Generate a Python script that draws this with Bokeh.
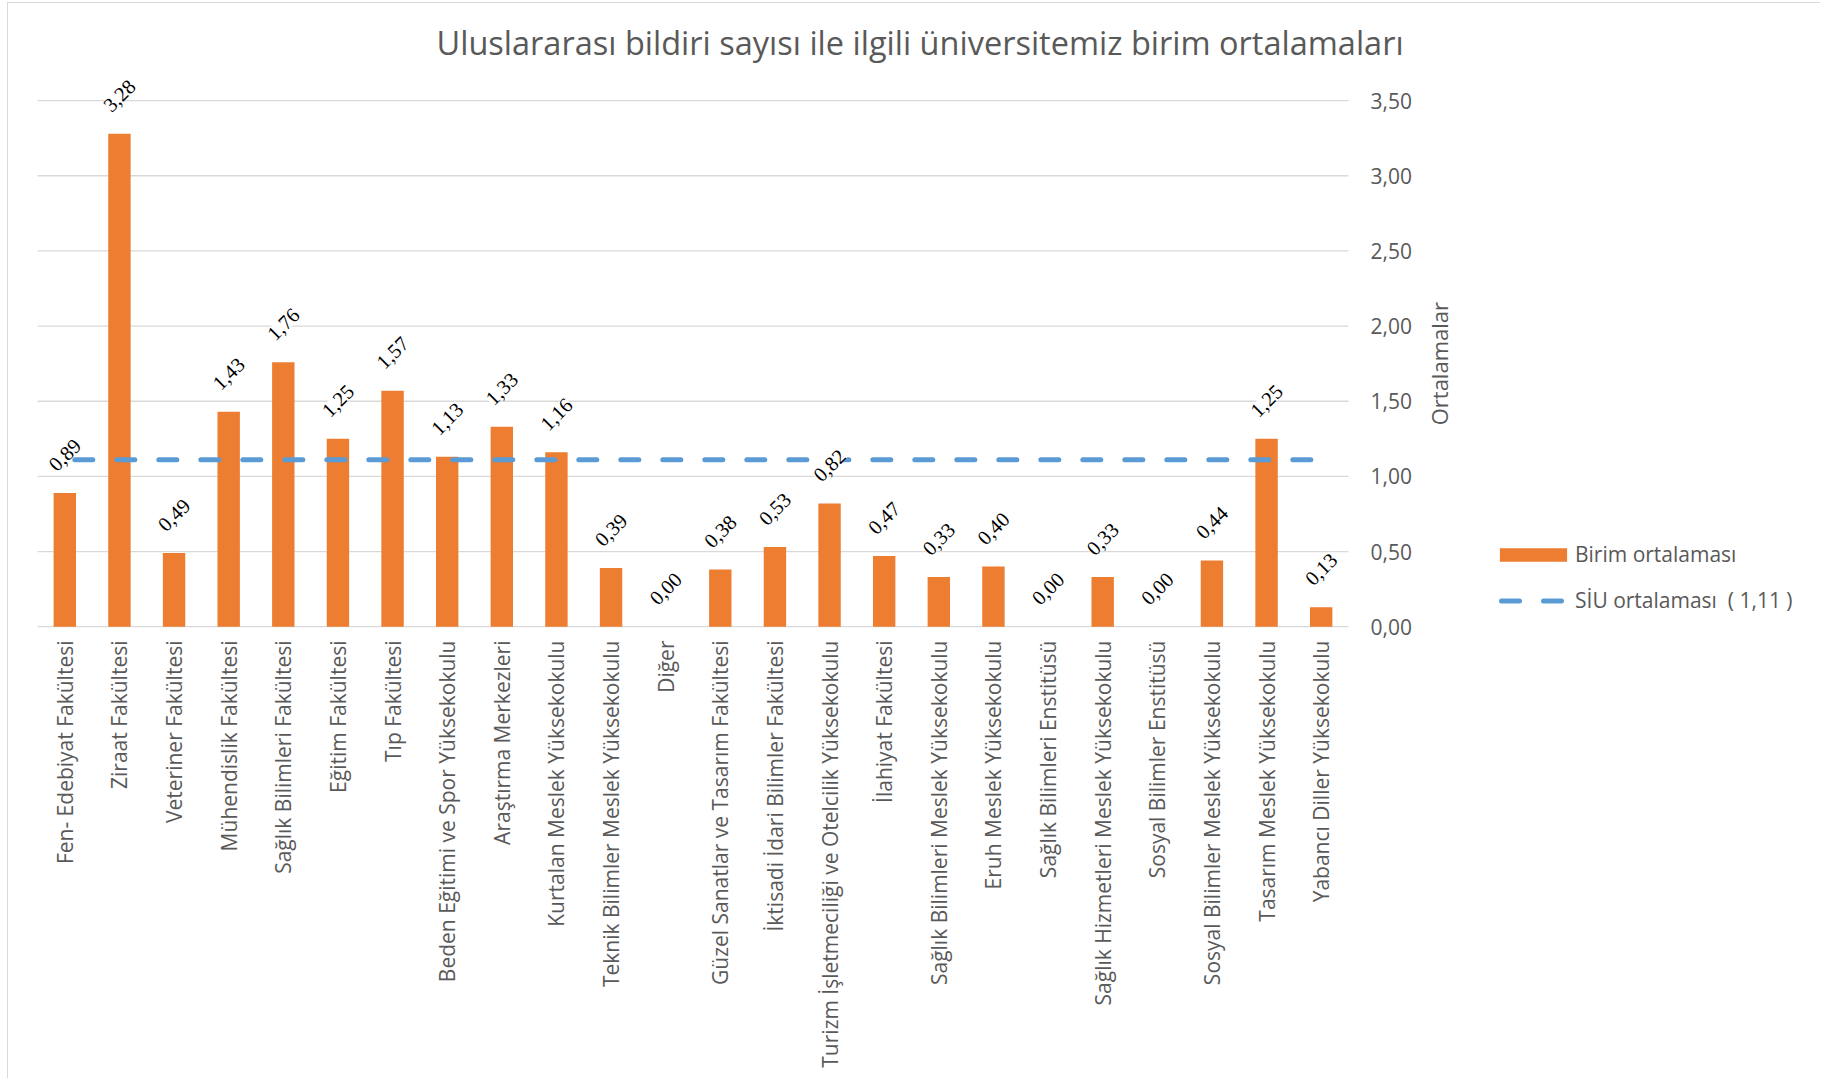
import math
from bokeh.plotting import figure
from bokeh.models import (ColumnDataSource, LabelSet, Legend, LegendItem,
                          FixedTicker, Range1d)
from bokeh.core.properties import value
from bokeh.embed import file_html
from bokeh.resources import INLINE

# ---------------- data ----------------
categories = [
    "Fen- Edebiyat Fakültesi",
    "Ziraat Fakültesi",
    "Veteriner Fakültesi",
    "Mühendislik Fakültesi",
    "Sağlık Bilimleri Fakültesi",
    "Eğitim Fakültesi",
    "Tıp Fakültesi",
    "Beden Eğitimi ve Spor Yüksekokulu",
    "Araştırma Merkezleri",
    "Kurtalan Meslek Yüksekokulu",
    "Teknik Bilimler Meslek Yüksekokulu",
    "Diğer",
    "Güzel Sanatlar ve Tasarım Fakültesi",
    "İktisadi İdari Bilimler Fakültesi",
    "Turizm İşletmeciliği ve Otelcilik Yüksekokulu",
    "İlahiyat Fakültesi",
    "Sağlık Bilimleri Meslek Yüksekokulu",
    "Eruh Meslek Yüksekokulu",
    "Sağlık Bilimleri Enstitüsü",
    "Sağlık Hizmetleri Meslek Yüksekokulu",
    "Sosyal Bilimler Enstitüsü",
    "Sosyal Bilimler Meslek Yüksekokulu",
    "Tasarım Meslek Yüksekokulu",
    "Yabancı Diller Yüksekokulu",
]
unit_averages = [0.89, 3.28, 0.49, 1.43, 1.76, 1.25, 1.57, 1.13, 1.33, 1.16,
                 0.39, 0.00, 0.38, 0.53, 0.82, 0.47, 0.33, 0.40, 0.00, 0.33,
                 0.00, 0.44, 1.25, 0.13]
siu_average = 1.11
y_ticks = [0.0, 0.5, 1.0, 1.5, 2.0, 2.5, 3.0, 3.5]
y_tick_labels = ["0,00", "0,50", "1,00", "1,50", "2,00", "2,50", "3,00", "3,50"]
title_text = "Uluslararası bildiri sayısı ile ilgili üniversitemiz birim ortalamaları"
y_axis_title = "Ortalamalar"
bar_series_name = "Birim ortalaması"
line_series_name = "SİU ortalaması\u00a0 ( 1,11 )"

# ---------------- styles ----------------
FONT = "Open Sans"
GREY = "#595959"
ORANGE = "#ED7D31"
BLUE = "#5B9BD5"
GRID = "#D9D9D9"
CAT_PX = 1311 / 24          # pixel width of one category slot
FRAME_W, FRAME_H = 1783, 569
Y_LO, Y_HI = -0.085, 3.7

n = len(categories)
idx = list(range(n))
x_lo, x_hi = -0.5, n - 0.5
value_labels = [f"{v:.2f}".replace(".", ",") for v in unit_averages]
src = ColumnDataSource(dict(x=idx, val=unit_averages, lab=value_labels,
                            siu=[siu_average] * n))

p = figure(x_range=Range1d(x_lo, x_lo + FRAME_W / CAT_PX), y_range=Range1d(Y_LO, Y_HI),
           frame_width=FRAME_W, frame_height=FRAME_H,
           y_axis_location=None,
           output_backend="svg", toolbar_location=None,
           min_border_left=29, min_border_top=67, min_border_bottom=439,
           min_border_right=0)
p.styles = {"margin-left": "7px", "margin-top": "2px",
            "border-left": "1px solid #D9D9D9", "border-top": "1px solid #D9D9D9"}

p.title.text = title_text
p.title.align = "left"
p.title.offset = 399
p.title.standoff = 11
p.title.text_font = FONT
p.title.text_font_size = "32.5px"
p.title.text_font_style = "normal"
p.title.text_color = GREY

p.xgrid.grid_line_color = None
p.ygrid.grid_line_color = None
p.outline_line_color = None

# horizontal gridlines (value axis) across the category area only
p.segment(x0=[x_lo] * len(y_ticks), x1=[x_hi] * len(y_ticks), y0=y_ticks, y1=y_ticks,
          line_color=GRID, line_width=1.3)

bars = p.vbar(x="x", top="val", width=0.41, source=src, color=ORANGE, line_color=None)
line = p.line(x="x", y="siu", source=src, line_color=BLUE, line_width=5,
              line_dash="18 24", line_cap="round", line_dash_offset=32)

labels = LabelSet(x="x", y="val", text="lab", source=src, y_offset=38,
                  angle=math.pi / 4, text_align="center", text_baseline="middle",
                  text_font=FONT, text_font_size="20.5px", text_color="#000000",
                  background_fill_color="white")
p.add_layout(labels)

# value-axis tick labels on the right of the category area
p.text(x=[x_hi] * len(y_ticks), y=y_ticks, text=y_tick_labels, x_offset=22,
       text_align="left", text_baseline="middle", text_font=value(FONT),
       text_font_size="21px", text_color=GREY)

# value-axis title, reading bottom to top
p.text(x=[x_hi], y=[(y_ticks[0] + y_ticks[-1]) / 2], text=[y_axis_title], x_offset=90,
       angle=math.pi / 2, text_align="center", text_baseline="middle",
       text_font=value(FONT), text_font_size="22px", text_color=GREY)

# category axis
xa = p.xaxis[0]
xa.ticker = FixedTicker(ticks=idx)
xa.major_label_overrides = {i: c for i, c in zip(idx, categories)}
xa.axis_line_color = None
xa.major_tick_line_color = None
xa.major_tick_out = 0
xa.minor_tick_line_color = None
xa.major_label_orientation = math.pi / 2
xa.major_label_standoff = 1
xa.major_label_text_font = FONT
xa.major_label_text_font_size = "21px"
xa.major_label_text_color = GREY

legend = Legend(items=[LegendItem(label=bar_series_name, renderers=[bars]),
                       LegendItem(label=line_series_name, renderers=[line])],
                location=(1454, 25))
legend.label_text_font = FONT
legend.label_text_font_size = "21px"
legend.label_text_color = GREY
legend.glyph_width = 84
legend.glyph_height = 17
legend.label_height = 17
legend.label_standoff = 0
legend.spacing = 18
legend.padding = 10
legend.margin = 0
legend.border_line_color = None
legend.background_fill_alpha = 0
p.add_layout(legend)

open("out.html", "w").write(file_html(p, INLINE))
